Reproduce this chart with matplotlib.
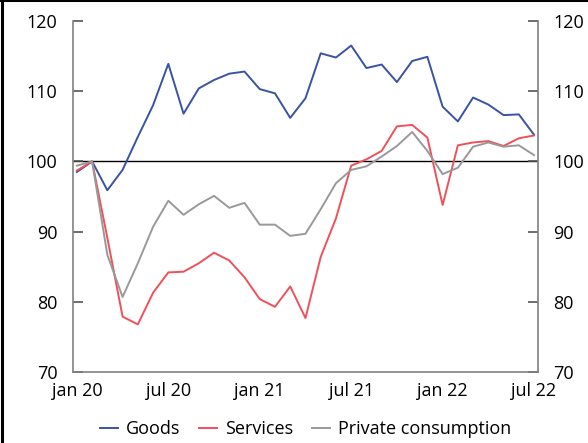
import numpy as np
import matplotlib
matplotlib.use('Agg')
from matplotlib import pyplot as plt
from matplotlib.lines import Line2D

plt.rcParams['font.family'] = ['Open Sans', 'DejaVu Sans']

# monthly index, feb 2020 = 100, jan 2020 .. jul 2022
months = ['jan 20', 'feb 20', 'mar 20', 'apr 20', 'may 20', 'jun 20', 'jul 20', 'aug 20',
          'sep 20', 'oct 20', 'nov 20', 'dec 20', 'jan 21', 'feb 21', 'mar 21', 'apr 21',
          'may 21', 'jun 21', 'jul 21', 'aug 21', 'sep 21', 'oct 21', 'nov 21', 'dec 21',
          'jan 22', 'feb 22', 'mar 22', 'apr 22', 'may 22', 'jun 22', 'jul 22']
goods = [98.5, 100.0, 95.9, 98.8, 103.5, 108.0, 113.9, 106.8, 110.4, 111.6, 112.5, 112.8,
         110.3, 109.7, 106.2, 109.0, 115.4, 114.8, 116.5, 113.3, 113.8, 111.3, 114.3, 114.9,
         107.8, 105.7, 109.1, 108.1, 106.6, 106.7, 103.8]
services = [98.7, 100.0, 89.1, 77.9, 76.8, 81.3, 84.2, 84.3, 85.5, 87.0, 85.9, 83.5,
            80.4, 79.3, 82.2, 77.7, 86.4, 91.9, 99.4, 100.3, 101.5, 105.0, 105.2, 103.4,
            93.8, 102.3, 102.7, 102.9, 102.2, 103.3, 103.7]
private = [99.4, 100.0, 86.7, 80.7, 85.5, 90.7, 94.4, 92.4, 93.9, 95.1, 93.4, 94.1,
           91.0, 91.0, 89.4, 89.7, 93.2, 96.9, 98.8, 99.3, 100.7, 102.2, 104.2, 101.5,
           98.2, 99.1, 102.1, 102.7, 102.1, 102.3, 100.9]
tick_labels = ['jan 20', 'jul 20', 'jan 21', 'jul 21', 'jan 22', 'jul 22']

x = np.arange(len(months))

fig = plt.figure(figsize=(5.88, 4.43), dpi=100)
ax = fig.add_axes([0.124, 0.160, 0.791, 0.7926])

ax.axhline(100, color='black', lw=1.0, zorder=1)
ax.plot(x, goods, color='#3953a4', lw=1.4, label='Goods')
ax.plot(x, services, color='#f0505a', lw=1.4, label='Services')
ax.plot(x, private, color='#999999', lw=1.4, label='Private consumption')

ax.set_xlim(-0.26, 30.26)
ax.set_ylim(70, 120)
ax.set_yticks([70, 80, 90, 100, 110, 120])
ax.set_xticks([months.index(t) for t in tick_labels])
ax.set_xticklabels(tick_labels)

for s in ['left', 'right', 'bottom']:
    ax.spines[s].set_color('#808080')
    ax.spines[s].set_linewidth(1.2)
ax.spines['top'].set_visible(False)

ax.tick_params(axis='y', direction='in', length=7, width=1.2, color='#555555',
               labelsize=13, pad=11, left=True, right=True, labelleft=True, labelright=True)
ax.tick_params(axis='x', length=0, labelsize=13, pad=7)

ax.legend(loc='upper center', bbox_to_anchor=(0.5, -0.09), ncol=3, frameon=False,
          fontsize=13, handlelength=1.0, handletextpad=0.45, columnspacing=1.02)

# partial frame around the figure
fig.add_artist(Line2D([0.004, 0.004], [0, 1], color='black', lw=2.2, transform=fig.transFigure))
fig.add_artist(Line2D([0, 1], [0.999, 0.999], color='black', lw=2.2, transform=fig.transFigure))

fig.savefig('out.png', dpi=100)
